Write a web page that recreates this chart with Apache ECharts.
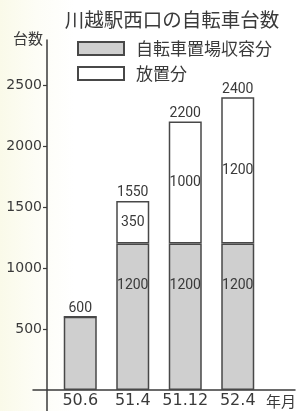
<!DOCTYPE html>
<html>
<head>
<meta charset="utf-8">
<script src="https://cdn.jsdelivr.net/npm/echarts@6/dist/echarts.min.js"></script>
<style>
  html, body { margin: 0; padding: 0; background: #fff; }
  #chart { width: 299px; height: 411px; }
</style>
</head>
<body>
<div id="chart"></div>
<script>
// 年月
var categories = ["50.6", "51.4", "51.12", "52.4"];
// 自転車置場収容分
var parkedVals = [600, 1200, 1200, 1200];
// 放置分
var leftVals = [0, 350, 1000, 1200];
// 合計
var totalVals = [600, 1550, 2200, 2400];
var yTicks = [500, 1000, 1500, 2000, 2500];

var lineColor = "#3a3a3a";
var textColor = "#3a3a3a";
var numFont = "DejaVu Sans";
var jpFont = "Noto Sans CJK JP";

var myChart = echarts.init(document.getElementById("chart"), null, { renderer: "canvas" });

var option = {
  animation: false,
  // 左端のわずかな黄ばみ
  backgroundColor: new echarts.graphic.LinearGradient(0, 0, 1, 0, [
    { offset: 0, color: "#fafae9" },
    { offset: 0.12, color: "#fdfdf6" },
    { offset: 0.25, color: "#ffffff" },
    { offset: 1, color: "#ffffff" }
  ]),
  title: {
    text: "川越駅西口の自転車台数",
    left: 167,
    top: 5,
    textAlign: "center",
    textStyle: { fontFamily: jpFont, fontSize: 19.5, fontWeight: "normal", color: textColor }
  },
  legend: {
    orient: "vertical",
    left: 72,
    top: 35,
    icon: "rect",
    itemWidth: 46,
    itemHeight: 13,
    itemGap: 8,
    data: ["自転車置場収容分", "放置分"],
    textStyle: { fontFamily: jpFont, fontSize: 17, color: textColor, lineHeight: 14, padding: [0, 0, 0, 7] }
  },
  grid: [
    // 棒グラフ
    { left: 54, right: 35, top: 40, bottom: 21, outerBoundsMode: "none" },
    // 軸線（原点の外まで延長）
    { left: 33, right: 4, top: 40, bottom: 0, outerBoundsMode: "none" }
  ],
  xAxis: [
    {
      type: "category",
      gridIndex: 0,
      data: categories,
      axisLine: { show: false },
      axisTick: { show: false },
      axisLabel: {
        interval: 0,
        fontFamily: numFont,
        fontSize: 16,
        lineHeight: 16,
        color: textColor,
        margin: 3
      },
      name: "年月",
      nameLocation: "end",
      nameGap: 2,
      nameTextStyle: { fontFamily: jpFont, fontSize: 15, color: textColor, verticalAlign: "top", padding: [4, 0, 0, 0] }
    },
    {
      type: "value",
      gridIndex: 1,
      min: -14,
      max: 248,
      axisLine: { show: true, onZero: true, lineStyle: { color: lineColor, width: 1.5 } },
      axisTick: { show: false },
      axisLabel: { show: false },
      splitLine: { show: false }
    }
  ],
  yAxis: [
    {
      type: "value",
      gridIndex: 0,
      min: 0,
      max: 2869,
      offset: 7,
      axisLine: { show: false },
      axisTick: { show: true, length: 4, customValues: yTicks, lineStyle: { color: lineColor, width: 1.2 } },
      axisLabel: {
        customValues: yTicks,
        fontFamily: numFont,
        fontSize: 14,
        color: textColor,
        margin: 5,
        formatter: function (v) { return String(v); }
      },
      splitLine: { show: false },
      name: "台数",
      nameLocation: "end",
      nameGap: 2,
      nameTextStyle: { fontFamily: jpFont, fontSize: 15, color: textColor, align: "right", verticalAlign: "middle", padding: [0, 4, 0, 0] }
    },
    {
      type: "value",
      gridIndex: 1,
      min: -172,
      max: 2869,
      axisLine: { show: true, onZero: true, lineStyle: { color: lineColor, width: 1.5 } },
      axisTick: { show: false },
      axisLabel: { show: false },
      splitLine: { show: false }
    }
  ],
  series: [
    {
      name: "自転車置場収容分",
      type: "bar",
      stack: "all",
      barWidth: 33,
      barGap: "-100%",
      data: parkedVals,
      itemStyle: { color: "#cfcfcf", borderColor: "#484848", borderWidth: 1.5 },
      label: {
        show: true,
        position: "insideTop",
        distance: 35,
        fontFamily: "Roboto",
        fontSize: 14,
        color: textColor,
        formatter: function (p) {
          return leftVals[p.dataIndex] > 0 ? p.value : "";
        }
      }
    },
    {
      name: "放置分",
      type: "bar",
      stack: "all",
      barWidth: 33,
      barGap: "-100%",
      data: leftVals,
      itemStyle: { color: "#ffffff", borderColor: "#484848", borderWidth: 1.5 },
      label: {
        show: true,
        position: "inside",
        fontFamily: "Roboto",
        fontSize: 14,
        color: textColor,
        formatter: function (p) {
          return p.value > 0 ? p.value : "";
        }
      }
    },
    {
      // 合計ラベル
      name: "合計",
      type: "bar",
      barWidth: 33,
      barGap: "-100%",
      silent: true,
      data: totalVals,
      itemStyle: { color: "rgba(0,0,0,0)" },
      label: {
        show: true,
        position: "top",
        distance: 1,
        fontFamily: "Roboto",
        fontSize: 14,
        color: textColor
      }
    }
  ]
};

myChart.setOption(option);
</script>
</body>
</html>
